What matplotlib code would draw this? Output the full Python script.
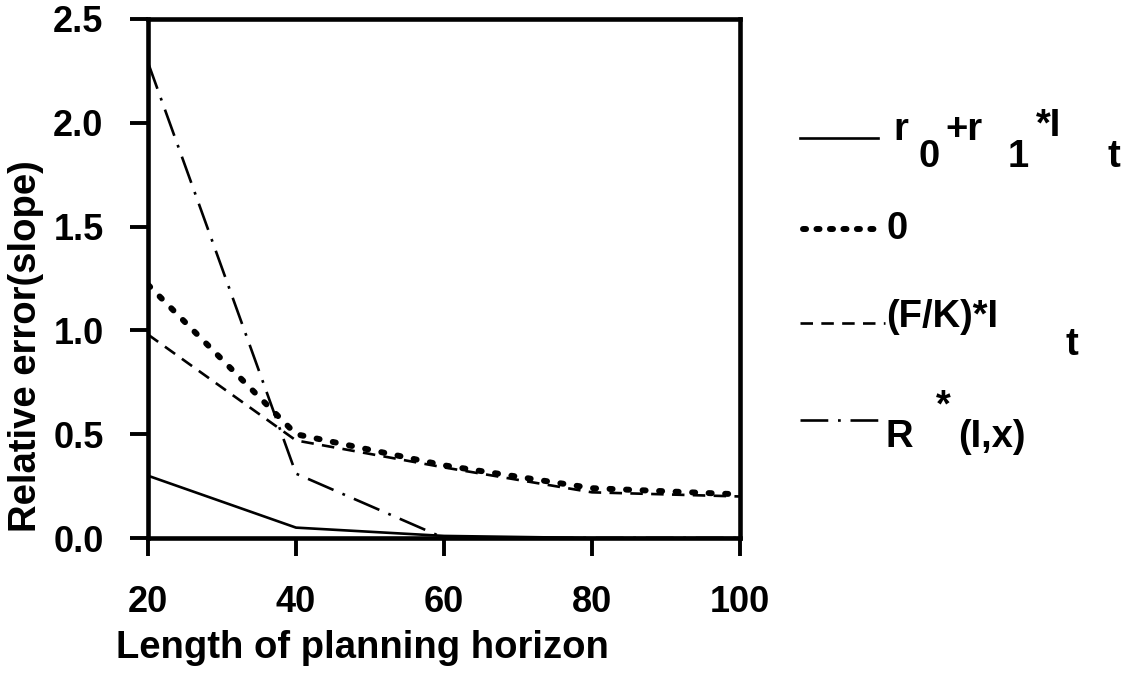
import matplotlib
matplotlib.use("Agg")
import matplotlib.pyplot as plt

plt.rcParams['font.family'] = ['Liberation Sans', 'DejaVu Sans']
plt.rcParams['font.weight'] = 'bold'
plt.rcParams['lines.scale_dashes'] = False

horizon = [20, 40, 60, 80, 100]
r0_r1 = [0.30, 0.05, 0.01, 0.0, 0.0]
zero = [1.22, 0.50, 0.35, 0.24, 0.21]
fk = [0.98, 0.47, 0.34, 0.22, 0.20]
rstar = [2.29, 0.31, 0.0, 0.0, 0.0]

xticks = [20, 40, 60, 80, 100]
yticks = [0.0, 0.5, 1.0, 1.5, 2.0, 2.5]

TICK_FS = 26
LAB_FS = 27.5

DOT = (0, (2.2, 9.7))
DASH = (0, (9, 6))
DASHDOT = (0, (20, 7, 2, 7))
LW = 1.9

fig = plt.figure(figsize=(11.36, 6.82), dpi=100)
ax = fig.add_axes([148/1136, 1-538/682, (740-148)/1136, (538-19)/682])

ax.plot(horizon, r0_r1, color='black', lw=LW)
ax.plot(horizon, zero, color='black', lw=4.3, linestyle=DOT, dash_capstyle='round')
ax.plot(horizon, fk, color='black', lw=LW, linestyle=DASH)
ax.plot(horizon, rstar, color='black', lw=LW, linestyle=DASHDOT)

ax.set_xlim(20, 100)
ax.set_ylim(0, 2.5)
ax.set_xticks(xticks)
ax.set_yticks(yticks)
ax.set_yticklabels([f"{v:.1f}" for v in yticks])
for s in ax.spines.values():
    s.set_linewidth(3.3)
ax.tick_params(axis='both', direction='out', length=13, width=2.8, labelsize=TICK_FS)
ax.tick_params(axis='y', pad=19)
ax.tick_params(axis='x', pad=21)
ax.set_xlabel("Length of planning horizon", fontsize=LAB_FS, fontweight='bold')
ax.set_ylabel("Relative error(slope)", fontsize=LAB_FS, fontweight='bold')
ax.xaxis.set_label_coords((362-148)/592, (538-648)/519)
ax.xaxis.label.set_va('center')
ax.yaxis.set_label_coords((26-148)/592, (538-346)/519)
ax.yaxis.label.set_va('center')

def fx(px):
    return px / 1136
def fy(py):
    return 1 - py / 682

tk = dict(fontsize=LAB_FS, fontweight='bold', ha='left', va='center')
# legend lines
fig.add_artist(plt.Line2D([fx(800), fx(878)], [fy(138), fy(138)], color='black', lw=LW))
fig.add_artist(plt.Line2D([fx(803), fx(882)], [fy(229), fy(229)], color='black', lw=4.3,
                          linestyle=(0, (2.2, 7.5)), dash_capstyle='round'))
fig.add_artist(plt.Line2D([fx(800), fx(885)], [fy(323), fy(323)], color='black', lw=LW,
                          linestyle=DASH))
fig.add_artist(plt.Line2D([fx(800), fx(880)], [fy(420), fy(420)], color='black', lw=LW,
                          linestyle=DASHDOT))
# legend labels (fragments placed as in the reference)
fig.text(fx(893), fy(130), "r", **tk)
fig.text(fx(918), fy(157), "0", **tk)
fig.text(fx(945), fy(130), "+r", **tk)
fig.text(fx(1008), fy(157), "1", **tk)
fig.text(fx(1036), fy(126), "*I", **tk)
fig.text(fx(1108), fy(157), "t", **tk)
fig.text(fx(886), fy(229), "0", **tk)
fig.text(fx(886), fy(317), "(F/K)*I", **tk)
fig.text(fx(1066), fy(345), "t", **tk)
fig.text(fx(885), fy(437), "R", **tk)
fig.text(fx(936), fy(406), "*", **tk)
fig.text(fx(958), fy(437), "(I,x)", **tk)

fig.savefig("out.png", dpi=100)
